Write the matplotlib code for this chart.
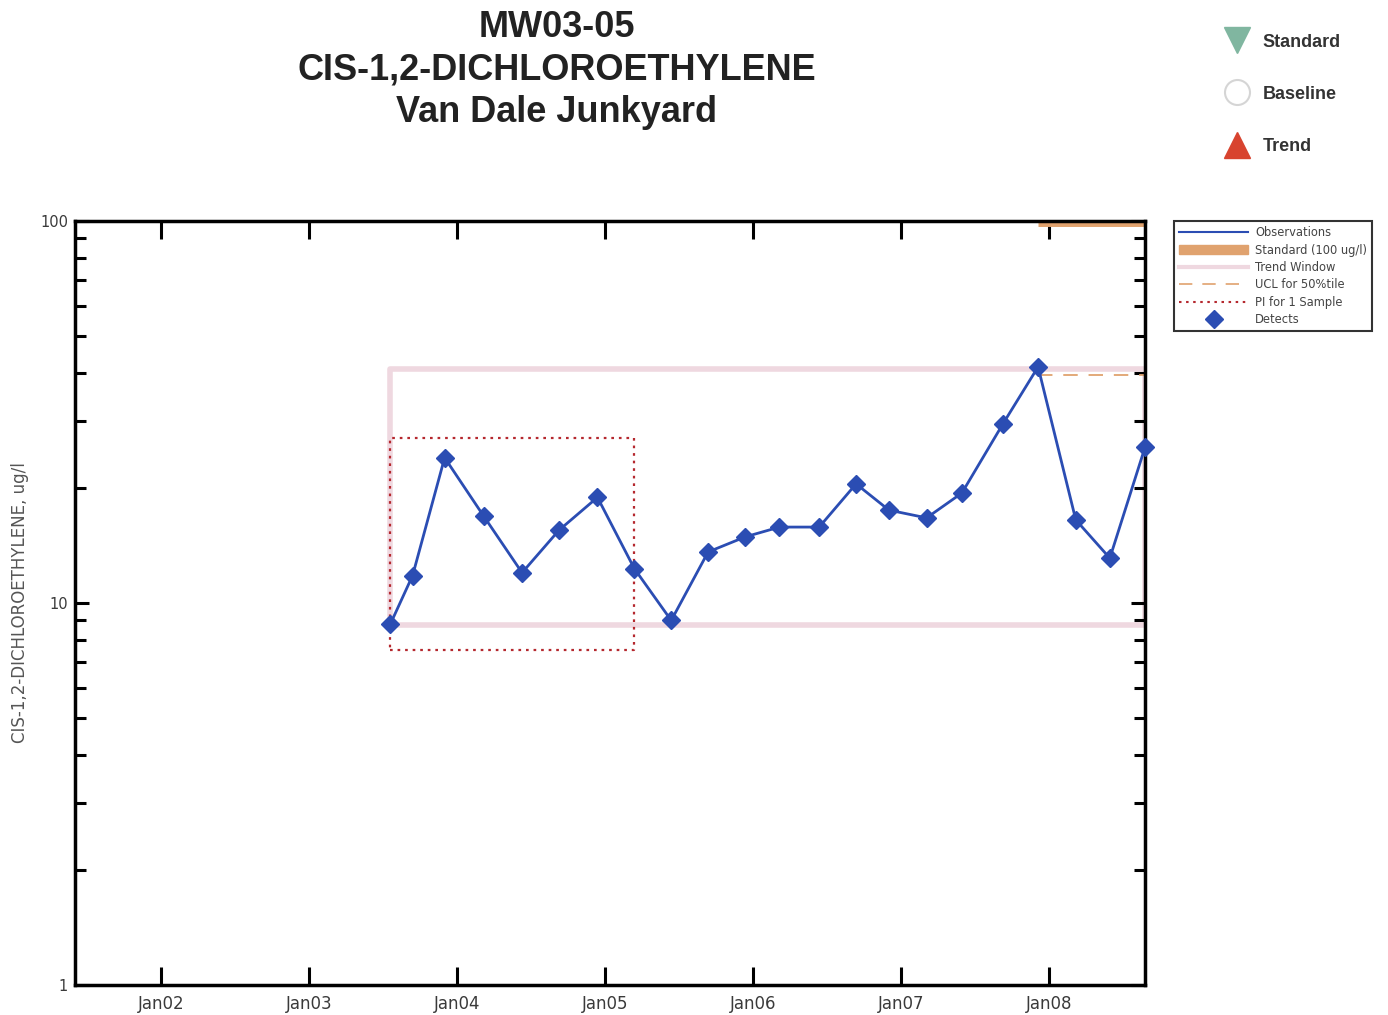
import numpy as np
import matplotlib.pyplot as plt
import matplotlib.dates as mdates
from matplotlib.lines import Line2D
from matplotlib.patches import Patch
from matplotlib.ticker import LogLocator, NullFormatter

# sample dates and concentrations (ug/l)
dates = np.array(['2003-07-21', '2003-09-14', '2003-12-02', '2004-03-07', '2004-06-10',
                  '2004-09-09', '2004-12-13', '2005-03-14', '2005-06-13', '2005-09-12',
                  '2005-12-13', '2006-03-07', '2006-06-13', '2006-09-12', '2006-12-02',
                  '2007-03-05', '2007-05-31', '2007-09-09', '2007-12-05', '2008-03-07',
                  '2008-05-30', '2008-08-25'], dtype='datetime64[D]')
conc = [8.8, 11.8, 24.0, 16.9, 12.0, 15.5, 18.9, 12.3, 9.0, 13.6, 14.9,
        15.8, 15.8, 20.5, 17.5, 16.7, 19.4, 29.4, 41.5, 16.5, 13.1, 25.6]

# trend window, prediction interval, UCL, standard
trend_start, trend_end = dates[0], dates[-1]
trend_lo, trend_hi = 8.76, 41.0
pi_start, pi_end = dates[0], dates[7]
pi_lo, pi_hi = 7.53, 27.0
ucl_start, ucl_end = dates[18], dates[-1]
ucl_val = 39.5
std_start, std_end = dates[18], dates[-1]
std_val = 100

year_ticks = np.array(['2002-01-01', '2003-01-01', '2004-01-01', '2005-01-01',
                       '2006-01-01', '2007-01-01', '2008-01-01'], dtype='datetime64[D]')

fig = plt.figure(figsize=(13.88, 10.15), dpi=100)
ax = fig.add_axes([0.054, 0.0296, 0.771, 0.7527])

blue = '#2b4db3'
pink = '#efd8e0'
red = '#b5282e'
tan = '#e0a26e'

# trend window box
ax.plot([trend_start, trend_end, trend_end, trend_start, trend_start],
        [trend_lo, trend_lo, trend_hi, trend_hi, trend_lo], color=pink, lw=4, zorder=1)
# PI box
ax.plot([pi_start, pi_end, pi_end, pi_start, pi_start],
        [pi_lo, pi_lo, pi_hi, pi_hi, pi_lo], color=red, lw=1.6, ls=(0, (1.2, 2.2)), zorder=2)
# UCL
ax.plot([ucl_start, ucl_end], [ucl_val, ucl_val], color=tan, lw=1.3, ls=(0, (8, 6)), zorder=2)
# standard
ax.plot([std_start, std_end], [std_val * 0.985, std_val * 0.985], color=tan, lw=5,
        solid_capstyle='butt', zorder=2)

ax.plot(dates, conc, color=blue, lw=2, marker='D', ms=9, mfc=blue, mec=blue, zorder=3,
        clip_on=False)

ax.set_yscale('log')
ax.set_ylim(1, 100)
ax.set_xlim(np.datetime64('2001-06-03'), np.datetime64('2008-08-25'))
ax.set_xticks(year_ticks)
ax.xaxis.set_major_formatter(mdates.DateFormatter('%b%y'))
ax.yaxis.set_minor_locator(LogLocator(base=10, subs=np.arange(2, 10), numticks=5))
ax.yaxis.set_minor_formatter(NullFormatter())
ax.set_yticks([1, 10, 100])
ax.set_yticklabels(['1', '10', '100'])

for s in ax.spines.values():
    s.set_linewidth(2.5)
ax.tick_params(which='both', direction='in', top=True, right=True, width=2.2,
               labelcolor='#3a3a3a', pad=5)
ax.tick_params(axis='x', which='major', length=13, labelsize=12, pad=7)
ax.tick_params(axis='y', which='major', length=10, labelsize=10.5)
ax.tick_params(axis='y', which='minor', length=8)

ax.set_ylabel('CIS-1,2-DICHLOROETHYLENE, ug/l', fontsize=12, color='#555555')
ax.yaxis.set_label_coords(-0.043, 0.5)

fig.text(0.401, 0.990, 'MW03-05\nCIS-1,2-DICHLOROETHYLENE\nVan Dale Junkyard', ha='center',
         va='top', fontsize=26, fontweight='bold', color='#222222', linespacing=1.27,
         family='Liberation Sans')

# line legend
handles = [Line2D([], [], color=blue, lw=1.5),
           Patch(facecolor=tan, edgecolor=tan),
           Line2D([], [], color=pink, lw=3),
           Line2D([], [], color=tan, lw=1.2, ls=(0, (8, 6))),
           Line2D([], [], color=red, lw=1.5, ls=(0, (1.2, 2.2))),
           Line2D([], [], color=blue, ls='none', marker='D', ms=9)]
labels = ['Observations', 'Standard (100 ug/l)', 'Trend Window', 'UCL for 50%tile',
          'PI for 1 Sample', 'Detects']
leg = fig.legend(handles, labels, loc='upper left', bbox_to_anchor=(0.8458, 0.7823),
                 fontsize=8.3, handlelength=6.0, labelspacing=0.38, handletextpad=0.6,
                 fancybox=False, edgecolor='black', borderpad=0.45, borderaxespad=0)
leg.get_frame().set_linewidth(1.5)
for t in leg.get_texts():
    t.set_color('#444444')

# status legend
sym = [Line2D([], [], ls='none', marker='v', ms=19, color='#80b6a0'),
       Line2D([], [], ls='none', marker='o', ms=18, mfc='white', mec='#d5d5d5', mew=1.5),
       Line2D([], [], ls='none', marker='^', ms=19, color='#d8432f')]
leg2 = fig.legend(sym, ['Standard', 'Baseline', 'Trend'], loc='upper left',
                  bbox_to_anchor=(0.8665, 0.983), frameon=False, labelspacing=1.95,
                  handletextpad=0.4, prop={'size': 13, 'weight': 'bold', 'family': 'Liberation Sans'})
for t in leg2.get_texts():
    t.set_color('#333333')

fig.savefig('out.png', dpi=100)
